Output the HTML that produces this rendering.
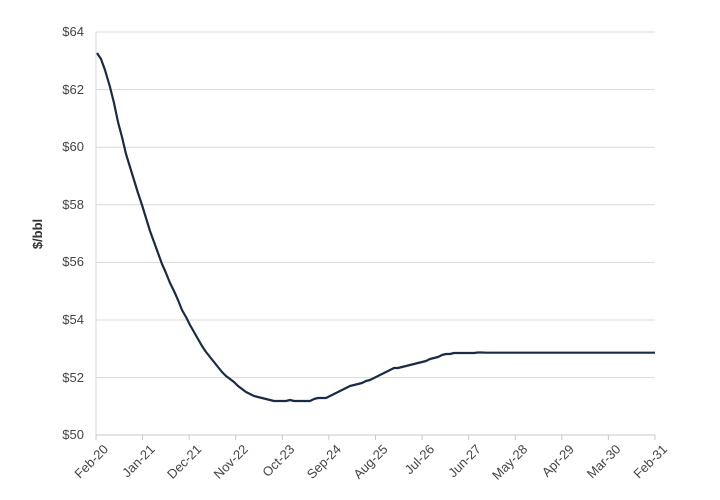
<!DOCTYPE html>
<html><head><meta charset="utf-8"><style>
body{margin:0;background:#fff;}
svg{display:block;font-family:"Liberation Sans",sans-serif;}
</style></head><body>
<svg width="720" height="500" viewBox="0 0 720 500">
<g stroke="#d9d9d9" stroke-width="1">
<line x1="96" y1="32" x2="655" y2="32"/>
<line x1="96" y1="89.6" x2="655" y2="89.6"/>
<line x1="96" y1="147.2" x2="655" y2="147.2"/>
<line x1="96" y1="204.8" x2="655" y2="204.8"/>
<line x1="96" y1="262.4" x2="655" y2="262.4"/>
<line x1="96" y1="320" x2="655" y2="320"/>
<line x1="96" y1="377.6" x2="655" y2="377.6"/>
<line x1="96" y1="32" x2="96" y2="435"/>
<line x1="96" y1="435" x2="655" y2="435" stroke="#c8c8c8"/>
</g>
<g stroke="#c8c8c8"><line x1="96" y1="435" x2="96" y2="440"/><line x1="142.6" y1="435" x2="142.6" y2="440"/><line x1="189.2" y1="435" x2="189.2" y2="440"/><line x1="235.7" y1="435" x2="235.7" y2="440"/><line x1="282.3" y1="435" x2="282.3" y2="440"/><line x1="328.9" y1="435" x2="328.9" y2="440"/><line x1="375.5" y1="435" x2="375.5" y2="440"/><line x1="422.1" y1="435" x2="422.1" y2="440"/><line x1="468.7" y1="435" x2="468.7" y2="440"/><line x1="515.2" y1="435" x2="515.2" y2="440"/><line x1="561.8" y1="435" x2="561.8" y2="440"/><line x1="608.4" y1="435" x2="608.4" y2="440"/><line x1="655" y1="435" x2="655" y2="440"/></g>
<g font-size="13" fill="#444" text-anchor="end">
<text x="84" y="36">$64</text><text x="84" y="94">$62</text><text x="84" y="151">$60</text><text x="84" y="209">$58</text><text x="84" y="266">$56</text><text x="84" y="324">$54</text><text x="84" y="382">$52</text><text x="84" y="439">$50</text>
</g>
<text x="42" y="234" font-size="13" font-weight="bold" fill="#333" text-anchor="middle" transform="rotate(-90 42 234)">$/bbl</text>
<g font-size="13" fill="#444" text-anchor="end">
<text transform="translate(109,450) rotate(-45)">Feb-20</text>
<text transform="translate(155.6,450) rotate(-45)">Jan-21</text>
<text transform="translate(202.2,450) rotate(-45)">Dec-21</text>
<text transform="translate(248.7,450) rotate(-45)">Nov-22</text>
<text transform="translate(295.3,450) rotate(-45)">Oct-23</text>
<text transform="translate(341.9,450) rotate(-45)">Sep-24</text>
<text transform="translate(388.5,450) rotate(-45)">Aug-25</text>
<text transform="translate(435.1,450) rotate(-45)">Jul-26</text>
<text transform="translate(481.7,450) rotate(-45)">Jun-27</text>
<text transform="translate(528.2,450) rotate(-45)">May-28</text>
<text transform="translate(574.8,450) rotate(-45)">Apr-29</text>
<text transform="translate(621.4,450) rotate(-45)">Mar-30</text>
<text transform="translate(668,450) rotate(-45)">Feb-31</text>
</g>
<polyline fill="none" stroke="#1c2b45" stroke-width="2.2" stroke-linejoin="round" points="97,53 101,59 105,70 110,87 114,103 118,122 122,137 126,154 130,167 134,180 138,193 142,205 146,218 150,231 154,242 158,253 162,264 166,273 170,283 174,291 178,300 182,310 186,317 190,325 194,332 198,339 202,346 206,352 210,357 214,362 218,367 222,372 226,376 230,379 234,382 238,386 242,389 246,392 250,394 254,396 258,397 262,398 266,399 270,400 274,401 278,401 282,401 286,401 290,400 294,401 298,401 302,401 306,401 310,401 314,399 318,398 322,398 326,398 330,396 334,394 338,392 342,390 346,388 350,386 354,385 358,384 362,383 366,381 370,380 374,378 378,376 382,374 386,372 390,370 394,368 398,368 402,367 406,366 410,365 414,364 418,363 422,362 426,361 430,359 434,358 438,357 442,355 446,354 450,354 454,353 458,353 462,353 466,353 470,353 474,353 478,352.5 482,352.5 486,352.7 655,352.7"/>
</svg>
</body></html>
